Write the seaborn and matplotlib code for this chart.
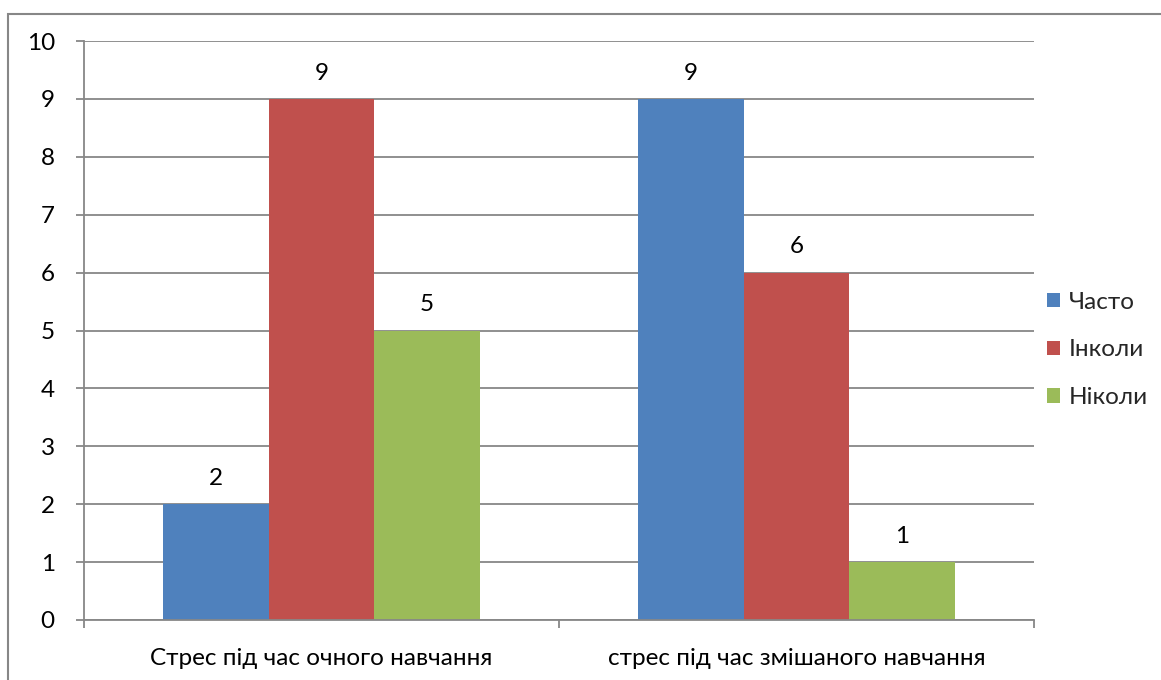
import matplotlib
matplotlib.use("Agg")
import matplotlib.pyplot as plt
import matplotlib.patches as mpatches
import seaborn as sns
import pandas as pd

# Survey answers: how often students felt stress
categories = ["Стрес під час очного навчання", "стрес під час змішаного навчання"]
answers = ["Часто", "Інколи", "Ніколи"]
often = [2, 9]
sometimes = [9, 6]
never = [5, 1]
colors = ["#4F81BD", "#C0504D", "#9BBB59"]
y_ticks = list(range(0, 11))

rows = []
for answer, values in zip(answers, [often, sometimes, never]):
    for cat, v in zip(categories, values):
        rows.append({"category": cat, "answer": answer, "count": v})
df = pd.DataFrame(rows)

sns.set_theme(style="white")
plt.rcParams["font.family"] = ["Lato", "Open Sans", "DejaVu Sans"]

FS = 17.5

fig = plt.figure(figsize=(11.61, 6.80), dpi=100)
ax = fig.add_axes([84 / 1161, 1 - 620 / 680, (1034 - 84) / 1161, (620 - 41) / 680])

sns.barplot(data=df, x="category", y="count", hue="answer", hue_order=answers,
            order=categories, palette=colors, width=2 / 3, saturation=1,
            edgecolor="none", linewidth=0, ax=ax, legend=False)

grid_color = "#878787"
ax.set_ylim(0, 10)
ax.set_xlim(-0.5, 1.5)
ax.set_yticks(y_ticks)
ax.set_yticklabels([str(t) for t in y_ticks], fontsize=FS)
ax.yaxis.grid(True, color=grid_color, linewidth=1.3)
ax.set_axisbelow(True)
ax.set_xlabel("")
ax.set_ylabel("")

for side in ["top", "right"]:
    ax.spines[side].set_visible(False)
for side in ["left", "bottom"]:
    ax.spines[side].set_color(grid_color)
    ax.spines[side].set_linewidth(1.3)

ax.tick_params(axis="y", which="both", left=True, length=6, width=1.3, color=grid_color,
               pad=15, labelcolor="black")
ax.set_xticks([0, 1])
ax.set_xticklabels(categories, fontsize=FS)
ax.tick_params(axis="x", bottom=False, pad=14, labelcolor="black")
# category separator ticks on the horizontal axis
ax.set_xticks([-0.5, 0.5, 1.5], minor=True)
ax.tick_params(axis="x", which="minor", bottom=True, length=6, width=1.3, color=grid_color)

for container in ax.containers:
    ax.bar_label(container, labels=[f"{int(v)}" for v in container.datavalues],
                 padding=11, fontsize=FS, color="black")

handles = [mpatches.Patch(facecolor=c, edgecolor="none", label=a) for a, c in zip(answers, colors)]
fig.legend(handles=handles, loc="center left", bbox_to_anchor=(1047 / 1161, 1 - 350 / 680),
           frameon=False, fontsize=FS, handlelength=0.55, handleheight=0.55,
           handletextpad=0.35, labelspacing=1.1, borderaxespad=0, borderpad=0)

# outer chart border
fig.patches.append(mpatches.Rectangle((8 / 1161, -0.1), 1.2, 1 - 14 / 680 + 0.1,
                                      transform=fig.transFigure, fill=False,
                                      edgecolor=grid_color, linewidth=1.5))

fig.savefig("out.png", dpi=100)
